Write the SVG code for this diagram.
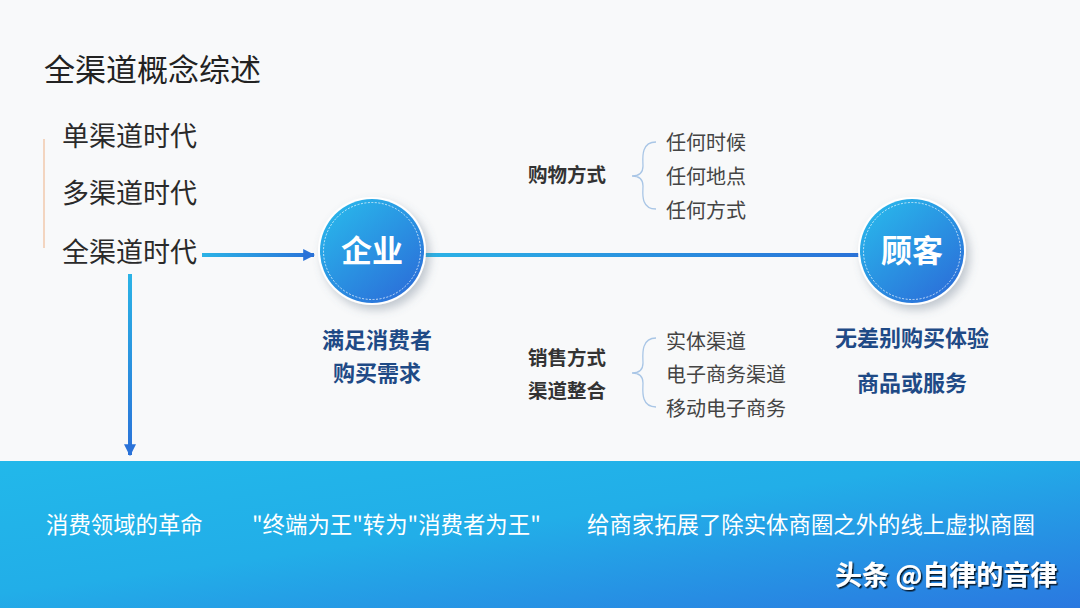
<svg xmlns="http://www.w3.org/2000/svg" width="1080" height="608" viewBox="0 0 1080 608">
<defs>
<linearGradient id="band" x1="0" y1="0" x2="1" y2="1">
<stop offset="0" stop-color="#22b8ea"/>
<stop offset="0.45" stop-color="#22aee8"/>
<stop offset="1" stop-color="#2a78e0"/>
</linearGradient>
<linearGradient id="hline1" gradientUnits="userSpaceOnUse" x1="202" y1="0" x2="314" y2="0">
<stop offset="0" stop-color="#2bb3e6"/>
<stop offset="1" stop-color="#2a72d8"/>
</linearGradient>
<linearGradient id="hline2" gradientUnits="userSpaceOnUse" x1="420" y1="0" x2="862" y2="0">
<stop offset="0" stop-color="#2bb3e6"/>
<stop offset="1" stop-color="#2a72d8"/>
</linearGradient>
<linearGradient id="vline" gradientUnits="userSpaceOnUse" x1="0" y1="274" x2="0" y2="455">
<stop offset="0" stop-color="#2bb3e6"/>
<stop offset="1" stop-color="#2a72d8"/>
</linearGradient>
<linearGradient id="ball" x1="0.15" y1="0.1" x2="0.85" y2="0.95">
<stop offset="0" stop-color="#29b3ea"/>
<stop offset="1" stop-color="#2b6fd9"/>
</linearGradient>
<filter id="shadow" x="-30%" y="-30%" width="170%" height="170%">
<feDropShadow dx="4" dy="5" stdDeviation="5" flood-color="#5a6b80" flood-opacity="0.35"/>
</filter>
<filter id="tshadow" x="-10%" y="-30%" width="130%" height="160%">
<feDropShadow dx="1.5" dy="1.5" stdDeviation="0.6" flood-color="#000" flood-opacity="0.8"/>
</filter>
<marker id="arrow" viewBox="0 0 10 10" refX="9" refY="5" markerWidth="3" markerHeight="3" orient="auto">
<path d="M0,0 L10,5 L0,10 Z" fill="#2a72d8"/>
</marker>
</defs>
<style>
text { font-family: "Noto Sans CJK SC", "Noto Sans", sans-serif; }
.title { font-size: 31px; fill: #222; }
.era { font-size: 27px; fill: #2a2a2a; }
.lab { font-size: 19.5px; font-weight: bold; fill: #333; }
.item { font-size: 20px; fill: #444; }
.sub { font-size: 22px; font-weight: bold; fill: #1f4a86; text-anchor: middle; }
.ball { font-size: 31px; font-weight: bold; fill: #fff; text-anchor: middle; }
.band { font-size: 22.4px; fill: #fff; }
.brace { fill: none; stroke: #a9c6e6; stroke-width: 1.3; }
</style>
<rect width="1080" height="608" fill="#f8f9fa"/>
<rect x="0" y="461" width="1080" height="147" fill="url(#band)"/>

<text class="title" x="44" y="81">全渠道概念综述</text>

<g id="eras">
<line x1="44" y1="139" x2="44" y2="248" stroke="#f2c9ad" stroke-width="1.5"/>
<text class="era" x="62" y="146">单渠道时代</text>
<text class="era" x="62" y="203">多渠道时代</text>
<text class="era" x="62" y="262">全渠道时代</text>
</g>

<g id="connectors">
<line x1="202" y1="255" x2="314" y2="255" stroke="url(#hline1)" stroke-width="4" marker-end="url(#arrow)"/>
<line x1="130" y1="274" x2="130" y2="455" stroke="url(#vline)" stroke-width="4" marker-end="url(#arrow)"/>
<line x1="420" y1="255" x2="862" y2="255" stroke="url(#hline2)" stroke-width="4"/>
</g>

<g id="node-qiye">
<circle cx="372" cy="251" r="54" fill="#fff" filter="url(#shadow)"/>
<circle cx="372" cy="251" r="52" fill="url(#ball)"/>
<circle cx="372" cy="251" r="48.5" fill="none" stroke="#fff" stroke-opacity="0.7" stroke-width="1" stroke-dasharray="2 1.5"/>
<text class="ball" x="372" y="262">企业</text>
<text class="sub" x="377" y="348">满足消费者</text>
<text class="sub" x="377" y="381">购买需求</text>
</g>

<g id="node-guke">
<circle cx="912" cy="251" r="54" fill="#fff" filter="url(#shadow)"/>
<circle cx="912" cy="251" r="52" fill="url(#ball)"/>
<circle cx="912" cy="251" r="48.5" fill="none" stroke="#fff" stroke-opacity="0.7" stroke-width="1" stroke-dasharray="2 1.5"/>
<text class="ball" x="912" y="262">顾客</text>
<text class="sub" x="912" y="346">无差别购买体验</text>
<text class="sub" x="912" y="391">商品或服务</text>
</g>

<g id="shopping">
<text class="lab" x="528" y="182">购物方式</text>
<path class="brace" d="M656,142 C640,142 643,160 643,166 C643,172 640,176 632,176 C640,176 643,180 643,186 C643,192 640,209 656,209"/>
<text class="item" x="666" y="150">任何时候</text>
<text class="item" x="666" y="184">任何地点</text>
<text class="item" x="666" y="218">任何方式</text>
</g>

<g id="sales">
<text class="lab" x="528" y="365">销售方式</text>
<text class="lab" x="528" y="398">渠道整合</text>
<path class="brace" d="M656,338 C640,338 643,357 643,363 C643,369 640,373 632,373 C640,373 643,377 643,383 C643,389 640,407 656,407"/>
<text class="item" x="666" y="349">实体渠道</text>
<text class="item" x="666" y="382">电子商务渠道</text>
<text class="item" x="666" y="416">移动电子商务</text>
</g>

<g id="band-texts">
<text class="band" x="46" y="533">消费领域的革命</text>
<text class="band" x="252" y="533">"终端为王"转为"消费者为王"</text>
<text class="band" x="587" y="533">给商家拓展了除实体商圈之外的线上虚拟商圈</text>
<text x="835" y="585" font-size="27" font-weight="bold" fill="#fff" filter="url(#tshadow)">头条 @自律的音律</text>
</g>
</svg>
